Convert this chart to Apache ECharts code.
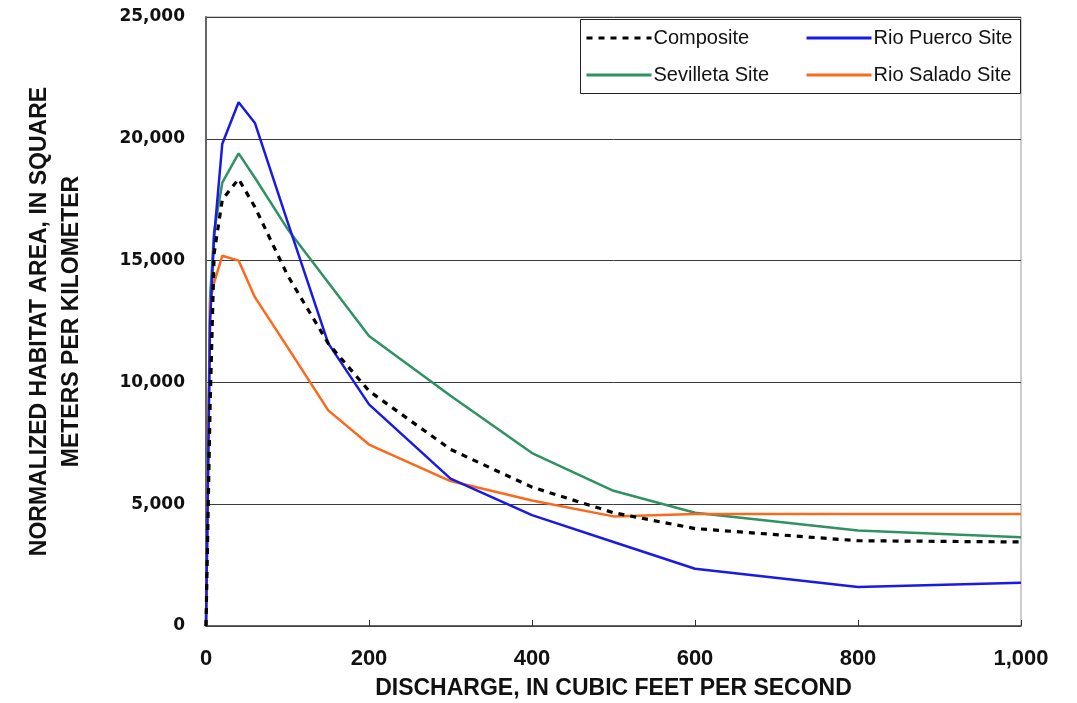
<!DOCTYPE html>
<html>
<head>
<meta charset="utf-8">
<script src="https://cdn.jsdelivr.net/npm/echarts@6/dist/echarts.min.js"></script>
<style>
html,body{margin:0;padding:0;background:#fff;}
#chart{width:1077px;height:703px;}
</style>
</head>
<body>
<div id="chart"></div>
<script>
// ---- data ----
const discharge = [0, 5, 10, 20, 40, 60, 100, 150, 200, 300, 400, 500, 600, 800, 1000];
const composite  = [0, 9000, 15300, 17500, 18350, 17200, 14400, 11600, 9650, 7250, 5700, 4650, 4000, 3500, 3450];
const rioPuerco  = [0, 12500, 16000, 19800, 21500, 20650, 16600, 11600, 9100, 6050, 4550, 3450, 2350, 1600, 1780];
const sevilleta  = [0, 13500, 16200, 18200, 19400, 18400, 16300, 14100, 11900, 9450, 7100, 5550, 4650, 3920, 3640];
const rioSalado  = [0, 13300, 14100, 15200, 15000, 13500, 11450, 8850, 7450, 5950, 5150, 4500, 4600, 4600, 4600];
const xTicks = [0, 200, 400, 600, 800, 1000];
const yTicks = [0, 5000, 10000, 15000, 20000, 25000];
const seriesNames = ['Composite', 'Rio Puerco Site', 'Sevilleta Site', 'Rio Salado Site'];
const xTitle = 'DISCHARGE, IN CUBIC FEET PER SECOND';
const yTitle = 'NORMALIZED HABITAT AREA, IN SQUARE\nMETERS PER KILOMETER';

function pairs(ys){ return discharge.map((x,i)=>[x, ys[i]]); }
function fmt(v){ return Number(v).toLocaleString('en-US'); }

const legendBase = {
  orient: 'vertical', top: 28, itemWidth: 65, itemHeight: 14, itemGap: 17, padding: 0, z: 5,
  itemStyle: {opacity: 0, borderWidth: 0},
  lineStyle: {width: 3},
  textStyle: {fontFamily: 'Liberation Sans', fontSize: 20, color: '#111', padding: [0,0,0,-3]}
};

const chart = echarts.init(document.getElementById('chart'), null, {renderer:'canvas'});
chart.setOption({
  backgroundColor: '#ffffff',
  animation: false,
  grid: {left: 206, top: 17, width: 815, height: 609, containLabel: false, outerBoundsMode: 'none',
         show: true, borderColor: '#9a9a9a', borderWidth: 1, backgroundColor: 'transparent'},
  xAxis: {
    type: 'value', min: xTicks[0], max: xTicks[xTicks.length-1], interval: 200,
    axisLine: {show: true, onZero: false, lineStyle: {color: '#444', width: 1.5}},
    axisTick: {show: true, inside: true, length: 6, lineStyle: {color: '#333', width: 1}},
    splitLine: {show: false},
    axisLabel: {formatter: fmt, margin: 22, color: '#111', fontFamily: 'Liberation Sans', fontWeight: 'bold', fontSize: 22},
    name: xTitle, nameLocation: 'middle', nameGap: 51,
    nameTextStyle: {color: '#111', fontFamily: 'Liberation Sans', fontWeight: 'bold', fontSize: 23}
  },
  yAxis: {
    type: 'value', min: yTicks[0], max: yTicks[yTicks.length-1], interval: 5000,
    axisLine: {show: true, onZero: false, lineStyle: {color: '#666', width: 2}},
    axisTick: {show: false},
    splitLine: {show: true, lineStyle: {color: '#3a3a3a', width: 1}},
    axisLabel: {formatter: fmt, margin: 21, color: '#111', fontFamily: 'DejaVu Sans', fontWeight: 'bold', fontSize: 17},
    name: yTitle, nameLocation: 'middle', nameGap: 118, nameRotate: 90,
    nameTextStyle: {color: '#111', fontFamily: 'Liberation Sans', fontWeight: 'bold', fontSize: 23, lineHeight: 32, align: 'center'}
  },
  graphic: [{
    type: 'rect', z: 3, silent: true,
    shape: {x: 580.5, y: 19.5, width: 440, height: 74},
    style: {fill: '#fff', stroke: '#222', lineWidth: 1}
  }],
  legend: [
    Object.assign({}, legendBase, {data: [seriesNames[0], seriesNames[2]], left: 585}),
    Object.assign({}, legendBase, {data: [seriesNames[1], seriesNames[3]], left: 805})
  ],
  series: [
    {name: seriesNames[2], type: 'line', data: pairs(sevilleta), symbol: 'none', showSymbol: false, z: 2,
     lineStyle: {color: '#2f9262', width: 2.5}, itemStyle: {color: '#2f9262'}},
    {name: seriesNames[3], type: 'line', data: pairs(rioSalado), symbol: 'none', showSymbol: false, z: 2,
     lineStyle: {color: '#fb6a1c', width: 2.5}, itemStyle: {color: '#fb6a1c'}},
    {name: seriesNames[1], type: 'line', data: pairs(rioPuerco), symbol: 'none', showSymbol: false, z: 2,
     lineStyle: {color: '#1a1ae6', width: 2.5}, itemStyle: {color: '#1a1ae6'}},
    {name: seriesNames[0], type: 'line', data: pairs(composite), symbol: 'none', showSymbol: false, z: 3,
     lineStyle: {color: '#000', width: 3.2, type: [6, 6]}, itemStyle: {color: '#000'}}
  ]
});
</script>
</body>
</html>
